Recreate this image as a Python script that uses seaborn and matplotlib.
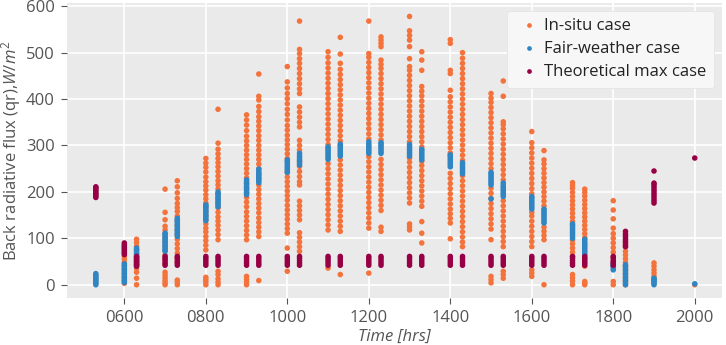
import matplotlib
matplotlib.use("Agg")
import matplotlib.pyplot as plt
import seaborn as sns
import pandas as pd
from matplotlib.ticker import FuncFormatter

# ---- data ----
times = [530, 600, 630, 700, 730, 800, 830, 900, 930, 1000, 1030, 1100, 1130, 1200, 1230,
         1300, 1330, 1400, 1430, 1500, 1530, 1600, 1630, 1700, 1730, 1800, 1830, 1900, 2000]

insitu_vals = [
    [],
    [3, 9, 16, 24, 33, 41, 48, 55, 61],
    [0, 14, 27, 35, 43, 51, 59, 67, 75, 83, 91, 98],
    [0, 4, 9, 15, 21, 27, 45, 55, 64, 74, 83, 92, 101, 110, 118, 126, 140, 156, 206],
    [0, 6, 10, 48, 58, 68, 78, 88, 98, 108, 118, 128, 138, 148, 158, 166, 175, 186, 198, 211, 224],
    [0, 6, 11, 16, 75, 85, 95, 104, 114, 122, 131, 140, 149, 158, 167, 176, 185, 194, 204, 213, 222, 232, 243, 253, 262, 272],
    [0, 6, 13, 22, 29, 97, 108, 118, 128, 137, 146, 156, 166, 176, 186, 196, 206, 215, 224, 234, 244, 254, 263, 272, 282, 292, 305, 378],
    [0, 6, 12, 18, 97, 107, 117, 127, 137, 147, 157, 168, 178, 188, 198, 208, 218, 230, 240, 250, 260, 270, 280, 290, 300, 310, 320, 332, 344, 355, 366],
    [9, 104, 114, 124, 134, 144, 155, 165, 175, 185, 195, 205, 215, 228, 238, 250, 260, 270, 280, 290, 300, 311, 321, 332, 342, 352, 362, 373, 384, 398, 406, 454],
    [29, 79, 111, 121, 131, 141, 151, 161, 171, 182, 192, 202, 212, 222, 232, 242, 272, 282, 292, 302, 312, 322, 333, 343, 355, 367, 378, 390, 401, 412, 424, 437, 470],
    [72, 82, 92, 102, 112, 140, 150, 160, 170, 180, 215, 222, 233, 244, 255, 266, 290, 300, 311, 340, 350, 361, 372, 383, 412, 422, 433, 444, 455, 466, 477, 487, 498, 507, 568],
    [36, 118, 129, 140, 151, 162, 173, 184, 195, 206, 217, 228, 239, 250, 261, 302, 313, 324, 335, 346, 357, 368, 379, 390, 401, 412, 423, 434, 445, 456, 467, 478, 490, 502],
    [22, 115, 126, 137, 148, 159, 170, 181, 192, 203, 214, 225, 236, 247, 258, 269, 310, 321, 332, 343, 354, 365, 376, 387, 398, 409, 420, 431, 442, 453, 464, 477, 497, 533],
    [25, 122, 133, 144, 155, 166, 177, 188, 199, 210, 221, 232, 243, 254, 265, 276, 314, 325, 336, 347, 358, 369, 380, 391, 402, 413, 424, 435, 446, 457, 468, 479, 490, 498, 568],
    [115, 124, 160, 171, 182, 193, 204, 215, 226, 237, 248, 259, 270, 312, 323, 334, 345, 356, 367, 378, 389, 400, 411, 422, 433, 444, 455, 466, 475, 484, 513, 520, 527, 534],
    [118, 125, 131, 176, 187, 198, 209, 220, 231, 242, 253, 264, 273, 308, 319, 330, 341, 352, 363, 374, 385, 396, 407, 418, 429, 440, 451, 462, 470, 487, 513, 527, 537, 547, 578],
    [90, 111, 136, 169, 180, 191, 202, 213, 224, 235, 246, 257, 266, 297, 308, 319, 330, 341, 352, 363, 374, 385, 396, 407, 417, 427, 462, 484, 502],
    [99, 133, 143, 153, 163, 174, 185, 196, 207, 218, 229, 240, 284, 295, 306, 317, 328, 339, 350, 361, 372, 383, 394, 405, 419, 455, 462, 520, 528],
    [82, 92, 103, 114, 125, 136, 147, 158, 169, 180, 191, 202, 213, 224, 235, 268, 279, 290, 301, 312, 323, 334, 345, 356, 367, 378, 389, 400, 411, 422, 433, 444, 455, 466, 477, 488, 500],
    [4, 11, 18, 97, 120, 131, 142, 153, 164, 175, 186, 197, 208, 250, 261, 272, 283, 294, 305, 316, 327, 338, 349, 360, 371, 382, 393, 402, 412],
    [14, 22, 29, 82, 93, 104, 115, 126, 137, 148, 159, 170, 181, 226, 237, 248, 259, 270, 281, 292, 303, 314, 325, 336, 345, 351, 406, 439],
    [18, 25, 32, 82, 93, 104, 115, 126, 137, 148, 156, 196, 207, 218, 229, 240, 251, 262, 273, 284, 295, 306, 330],
    [0, 97, 106, 115, 124, 170, 180, 190, 200, 210, 220, 230, 240, 250, 260, 269, 289],
    [0, 8, 15, 22, 61, 70, 79, 88, 96, 136, 145, 154, 163, 172, 181, 190, 199, 208, 214, 220],
    [0, 4, 7, 40, 48, 56, 101, 110, 119, 128, 137, 146, 155, 164, 173, 182, 191, 199, 206],
    [0, 7, 40, 50, 60, 70, 80, 90, 100, 110, 122, 142, 161, 181],
    [0, 8, 16, 24, 32, 40, 48, 56, 64, 72, 82],
    [11, 18, 25, 32, 40, 47],
    [0],
]

fair_vals = [
    [0, 3, 6, 9, 12, 15, 18, 21, 24],
    [5, 9, 13, 17, 21, 25, 29, 33, 37, 41, 45],
    [40, 44, 48, 52, 56, 60, 64, 68, 72, 76, 79],
    [72, 76, 80, 84, 88, 92, 96, 100, 104, 108, 111],
    [104, 108, 112, 116, 120, 124, 128, 132, 136, 140, 143],
    [138, 142, 146, 150, 154, 158, 162, 166, 170, 172],
    [168, 172, 176, 180, 184, 188, 192, 196, 200],
    [194, 198, 202, 206, 210, 214, 218, 222, 226],
    [220, 224, 228, 232, 236, 240, 244, 249],
    [242, 246, 250, 254, 258, 262, 266, 269],
    [258, 262, 266, 270, 274, 278, 283],
    [270, 274, 278, 282, 286, 290, 294, 297],
    [277, 281, 285, 289, 293, 297, 300, 303],
    [283, 287, 291, 295, 299, 303, 308],
    [283, 287, 291, 295, 299, 303, 306],
    [277, 281, 285, 289, 293, 297, 302],
    [269, 273, 277, 281, 285, 289, 292],
    [254, 258, 262, 266, 270, 274, 278, 280],
    [239, 243, 247, 251, 255, 259, 263],
    [185, 215, 219, 223, 227, 231, 235, 239, 242],
    [190, 194, 198, 202, 206, 210, 214, 219],
    [163, 167, 171, 175, 179, 183, 187, 190],
    [133, 137, 141, 145, 149, 153, 157, 161, 163],
    [100, 104, 108, 112, 116, 120, 124, 128, 131],
    [65, 69, 73, 77, 81, 85, 89, 93, 98],
    [32, 36, 40, 44, 47],
    [0, 4, 8, 12, 16, 20, 24, 28, 32, 36, 40, 43],
    [0, 3, 6, 9, 12, 14],
    [2],
]

theo_vals = [
    [188, 191, 194, 197, 200, 203, 206, 209, 211],
    [65, 68, 71, 74, 77, 80, 83, 86, 90],
    [40, 43, 46, 49, 52, 55, 58, 61],
    [42, 47, 52, 57, 61],
    [42, 47, 52, 57, 61],
    [42, 47, 52, 57, 61],
    [42, 47, 52, 57, 61],
    [42, 47, 52, 57, 61],
    [42, 47, 52, 57, 61],
    [42, 47, 52, 57, 61],
    [42, 47, 52, 57, 61],
    [42, 47, 52, 57, 61],
    [42, 47, 52, 57, 61],
    [42, 47, 52, 57, 61],
    [42, 47, 52, 57, 61],
    [42, 47, 52, 57, 61],
    [42, 47, 52, 57, 61],
    [42, 47, 52, 57, 61],
    [42, 47, 52, 57, 61],
    [42, 47, 52, 57, 61],
    [42, 47, 52, 57, 61],
    [42, 47, 52, 57, 61],
    [42, 47, 52, 57, 61],
    [42, 47, 52, 57, 61],
    [42, 47, 52, 57, 61],
    [42, 47, 52, 57, 61],
    [82, 86, 90, 94, 98, 102, 106, 110, 115],
    [176, 181, 186, 191, 196, 201, 206, 211, 216, 219, 245],
    [273],
]

case_labels = ["In-situ case", "Fair-weather case", "Theoretical max case"]
case_colors = ["#F4733C", "#2F86C3", "#970045"]
x_ticks = [600, 800, 1000, 1200, 1400, 1600, 1800, 2000]
y_ticks = [0, 100, 200, 300, 400, 500, 600]

# ---- build long table ----
rows = []
for label, series in zip(case_labels, [insitu_vals, fair_vals, theo_vals]):
    for t, vals in zip(times, series):
        for v in vals:
            rows.append((t, v, label))
df = pd.DataFrame(rows, columns=["time", "flux", "case"])

# ---- style ----
plt.style.use("ggplot")
plt.rcParams["font.family"] = ["Open Sans", "DejaVu Sans"]
plt.rcParams["mathtext.fontset"] = "custom"
plt.rcParams["mathtext.it"] = "Open Sans:italic"
plt.rcParams["mathtext.rm"] = "Open Sans"

fig = plt.figure(figsize=(7.26, 3.45), dpi=100)
ax = fig.add_axes([0.0927, 0.137, 0.9013, 0.853])
ax.set_facecolor("#EAEAEA")

sns.scatterplot(data=df, x="time", y="flux", hue="case", hue_order=case_labels,
                palette=dict(zip(case_labels, case_colors)), s=16, linewidth=0,
                ax=ax, zorder=3)

ax.set_xlim(460, 2066)
ax.set_ylim(-28, 606)
ax.set_xticks(x_ticks)
ax.set_yticks(y_ticks)
ax.xaxis.set_major_formatter(FuncFormatter(lambda v, p: f"{int(v):04d}"))
ax.tick_params(axis="both", labelsize=12, colors="#555555", length=4, width=0.8,
               direction="out", pad=5)
ax.grid(True, color="white", linewidth=1.2)
for sp in ax.spines.values():
    sp.set_visible(False)

ax.set_xlabel("Time [hrs]", fontsize=12, fontstyle="italic", color="#555555", labelpad=2)
ax.set_ylabel("Back radiative flux (qr),$W/m^2$", fontsize=12, color="#555555", labelpad=2)

handles, labels = ax.get_legend_handles_labels()
leg = ax.legend(handles, labels, loc="upper right", fontsize=12, frameon=True,
                facecolor="#F7F7F7", edgecolor="#E2E2E2", framealpha=1,
                handlelength=1.75, handletextpad=0.05, labelspacing=0.42,
                borderpad=0.45, borderaxespad=0.45, markerscale=0.85, title=None)
for txt in leg.get_texts():
    txt.set_color("#222222")

fig.savefig("out.png", dpi=100)
